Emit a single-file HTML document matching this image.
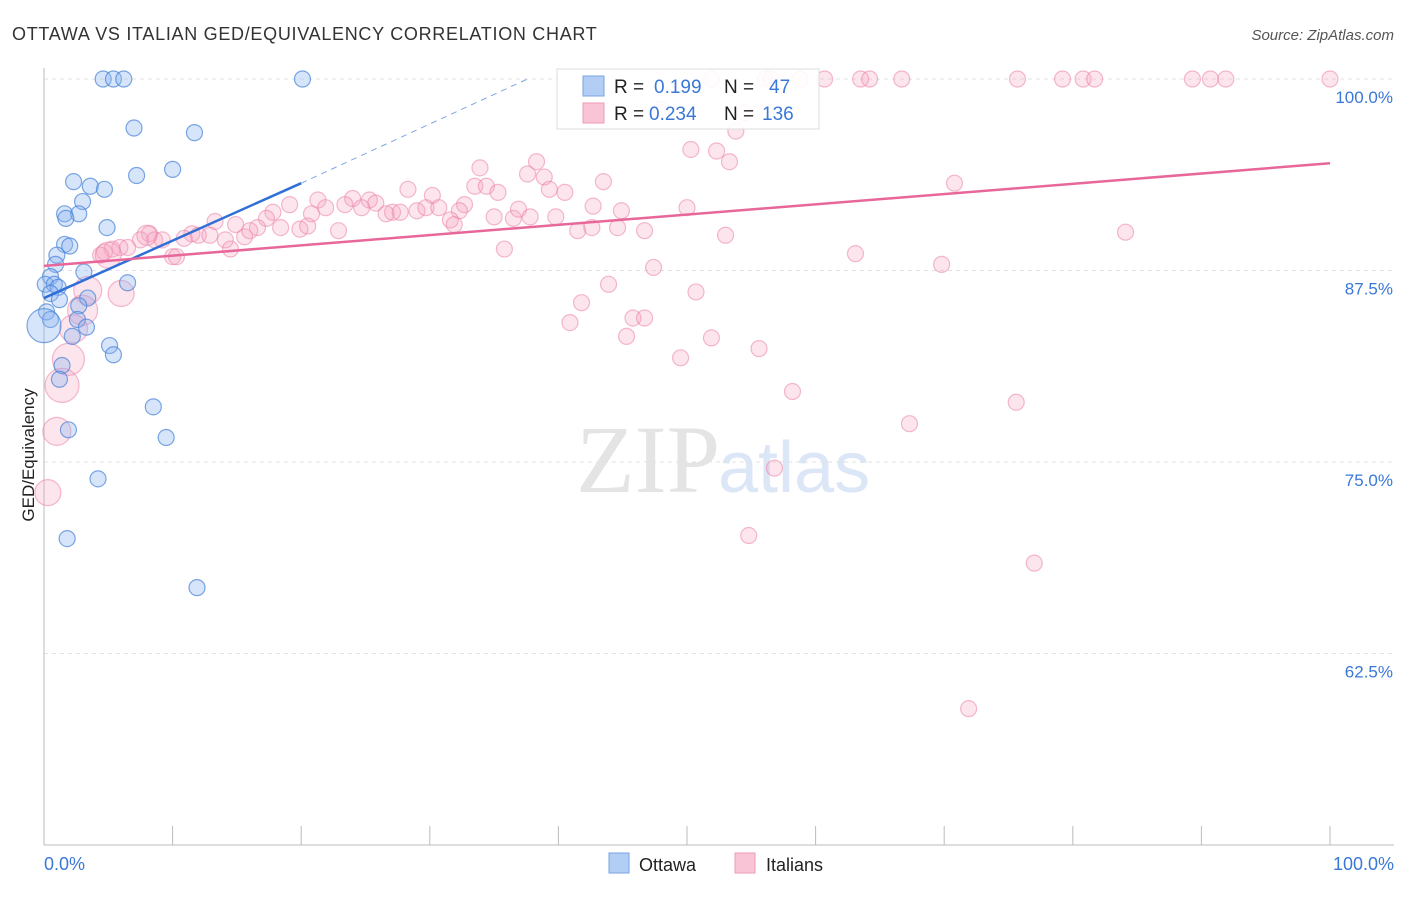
<!DOCTYPE html>
<html><head><meta charset="utf-8"><style>
body{margin:0;background:#fff;font-family:"Liberation Sans",sans-serif}
</style></head><body>
<svg id="c" width="1406" height="892" xmlns="http://www.w3.org/2000/svg">
<text x="12" y="40" font-size="18" fill="#333" letter-spacing="0.7">OTTAWA VS ITALIAN GED/EQUIVALENCY CORRELATION CHART</text>
<text x="1394" y="40" font-size="15" fill="#555" font-style="italic" text-anchor="end">Source: ZipAtlas.com</text>
<text x="720" y="492" font-size="96" fill="#e4e4e4" text-anchor="end" font-family="Liberation Serif,serif">ZIP</text>
<text x="718" y="492" font-size="72" fill="#dbe6f6">atlas</text>
<text transform="translate(34,455) rotate(-90)" font-size="17" fill="#222" text-anchor="middle">GED/Equivalency</text>
<g id="grid"></g><g id="pts"></g><g id="lines"></g>
<g>
<rect x="557" y="69" width="262" height="60" fill="#fff" fill-opacity="0.9" stroke="#ddd"/>
<rect x="583" y="76" width="21" height="20" fill="#b3cef5" stroke="#7aa3e0"/>
<rect x="583" y="103" width="21" height="20" fill="#f9c5d6" stroke="#ee9ab8"/>
<text x="614" y="93" font-size="19" fill="#222">R = </text><text x="654" y="93" font-size="19" fill="#3a78d8">0.199</text>
<text x="724" y="93" font-size="19" fill="#222">N = </text><text x="769" y="93" font-size="19" fill="#3a78d8">47</text>
<text x="614" y="120" font-size="19" fill="#222">R = </text><text x="649" y="120" font-size="19" fill="#3a78d8">0.234</text>
<text x="724" y="120" font-size="19" fill="#222">N = </text><text x="762" y="120" font-size="19" fill="#3a78d8">136</text>
</g>
<g><rect x="609" y="853" width="20" height="20" fill="#b3cef5" stroke="#7aa3e0"/><text x="639" y="871" font-size="18" fill="#222">Ottawa</text></g>
<g><rect x="735" y="853" width="20" height="20" fill="#f9c5d6" stroke="#ee9ab8"/><text x="766" y="871" font-size="18" fill="#222">Italians</text></g>
</svg>
<script>
const yTicks=[100,87.5,75,62.5];
const yTickLabels=["100.0%","87.5%","75.0%","62.5%"];
const xTickLabels=["0.0%","100.0%"];
const ottawaX=[4.6,5.4,6.2,20.1,7.0,11.7,10.0,7.2,2.3,3.6,4.7,3.0,1.6,2.7,1.7,4.9,1.6,2.0,1.0,0.9,0.5,3.1,0.1,0.8,1.1,6.5,0.5,3.4,1.2,2.7,0.2,0.5,2.6,3.3,2.2,5.1,5.4,1.4,1.2,8.5,9.5,1.9,4.2,1.8,11.9,0];
const ottawaY=[100,100,100,100,96.8,96.5,94.1,93.7,93.3,93.0,92.8,92.0,91.2,91.2,90.9,90.3,89.2,89.1,88.5,87.9,87.1,87.4,86.6,86.6,86.4,86.7,86.0,85.7,85.6,85.2,84.8,84.3,84.3,83.8,83.2,82.6,82.0,81.3,80.4,78.6,76.6,77.1,73.9,70.0,66.8,83.9];
const ottawaR=[8,8,8,8,8,8,8,8,8,8,8,8,8,8,8,8,8,8,8,8,8,8,8,8,8,8,8,8,8,8,8,8,8,8,8,8,8,8,8,8,8,8,8,8,8,17];
const italX=[51.9,56.1,56.5,58.8,60.7,63.5,64.2,66.7,75.7,79.2,80.8,81.7,89.3,90.7,91.9,100,48.0,54.5,53.8,50.3,52.3,53.3,33.9,38.3,37.6,38.9,43.5,33.5,34.4,35.3,39.3,40.5,28.3,30.2,70.8,21.3,24.0,25.3,25.8,27.1,19.1,21.9,20.8,23.4,24.7,26.6,27.7,29.0,29.7,30.7,32.7,32.3,31.6,31.9,35.0,36.5,36.9,37.8,39.8,42.7,44.9,50.0,17.8,17.3,16.6,18.4,19.9,20.5,22.9,13.3,14.9,15.6,16.0,11.5,12.0,12.9,14.1,14.5,10.9,8.2,8.6,9.2,7.5,6.5,5.9,5.3,4.7,4.4,10.0,10.3,35.8,41.5,42.6,44.6,46.7,53.0,84.1,63.1,69.8,47.4,43.9,50.7,41.8,40.9,45.8,46.7,45.3,51.9,49.5,55.6,58.2,75.6,67.3,56.8,54.8,77.0,71.9,6.0,3.4,3.0,2.3,1.9,1.4,1.0,0.3,5.0,8.0];
const italY=[100,100,100,100,100,100,100,100,100,100,100,100,100,100,100,100,98.0,97.8,96.6,95.4,95.3,94.6,94.2,94.6,93.8,93.6,93.3,93.0,93.0,92.6,92.8,92.6,92.8,92.4,93.2,92.1,92.2,92.1,91.9,91.3,91.8,91.6,91.2,91.8,91.6,91.2,91.3,91.4,91.6,91.6,91.8,91.4,90.8,90.5,91.0,90.9,91.5,91.0,91.0,91.7,91.4,91.6,91.3,90.9,90.3,90.3,90.2,90.4,90.1,90.7,90.5,89.7,90.1,89.9,89.8,89.8,89.5,88.9,89.6,89.9,89.5,89.5,89.5,89.0,89.0,88.9,88.7,88.5,88.4,88.4,88.9,90.1,90.3,90.3,90.1,89.8,90.0,88.6,87.9,87.7,86.6,86.1,85.4,84.1,84.4,84.4,83.2,83.1,81.8,82.4,79.6,78.9,77.5,74.6,70.2,68.4,58.9,86.0,86.2,84.9,83.7,81.7,80.0,77.0,73.0,88.5,89.8];
const italR=[];for(let i=0;i<italX.length;i++)italR.push(8);
const italBigR=[13,14,15,14,16,17,14,13,13,10];
for(let i=0;i<italBigR.length;i++)italR[italX.length-italBigR.length+i]=italBigR[i];
const ottawaTrend=[[0,85.7],[20,93.2]];
const ottawaDash=[[20,93.2],[37.6,100]];
const italTrend=[[0,87.8],[100,94.5]];

const X=v=>44+v*12.86, Y=v=>79+(100-v)*15.32;
const NS="http://www.w3.org/2000/svg";
function mk(t,a,p){const e=document.createElementNS(NS,t);for(const k in a)e.setAttribute(k,a[k]);p.appendChild(e);return e;}
const grid=document.getElementById('grid');
yTicks.forEach((t,i)=>{
 const l=mk('line',{x1:44,x2:1394,y1:Y(t),y2:Y(t),stroke:'#e2e2e2','stroke-dasharray':'4,4'},grid);
 
 
 const tx=mk('text',{x:1393,y:Y(t)+24,'font-size':17,fill:'#3a78d8','text-anchor':'end'},grid);tx.textContent=yTickLabels[i];
 
 
});
const ax=mk('line',{x1:44,x2:1394,y1:845,y2:845,stroke:'#bbb'},grid);


const ay=mk('line',{x1:44,x2:44,y1:68,y2:845,stroke:'#bbb'},grid);


for(let i=0;i<=10;i++){const t=mk('line',{x1:X(i*10),x2:X(i*10),y1:826,y2:845,stroke:'#bbb'},grid);
 
 }
[[0,'start',44],[100,'end',1394]].forEach((d,i)=>{const t=mk('text',{x:d[2],y:870,'font-size':18,fill:'#3a78d8','text-anchor':d[1]},grid);t.textContent=xTickLabels[i];
 
 });
const pts=document.getElementById('pts');
italX.forEach((v,i)=>{const c=mk('circle',{cx:X(v),cy:Y(italY[i]),r:italR[i],fill:'rgba(245,160,190,0.28)',stroke:'rgba(235,130,170,0.55)','stroke-width':1.2},pts);
 
 });
ottawaX.forEach((v,i)=>{const c=mk('circle',{cx:X(v),cy:Y(ottawaY[i]),r:ottawaR[i],fill:'rgba(140,180,240,0.35)',stroke:'rgba(70,130,215,0.7)','stroke-width':1.2},pts);
 
 });
const lines=document.getElementById('lines');
const l1=mk('line',{x1:X(ottawaTrend[0][0]),y1:Y(ottawaTrend[0][1]),x2:X(ottawaTrend[1][0]),y2:Y(ottawaTrend[1][1]),stroke:'#2f6fd6','stroke-width':2.5},lines);


const l2=mk('line',{x1:X(ottawaDash[0][0]),y1:Y(ottawaDash[0][1]),x2:X(ottawaDash[1][0]),y2:Y(ottawaDash[1][1]),stroke:'#7fa6e3','stroke-width':1,'stroke-dasharray':'6,5'},lines);


const l3=mk('line',{x1:X(italTrend[0][0]),y1:Y(italTrend[0][1]),x2:X(italTrend[1][0]),y2:Y(italTrend[1][1]),stroke:'#e8679a','stroke-width':2.5},lines);


</script>
</body></html>
